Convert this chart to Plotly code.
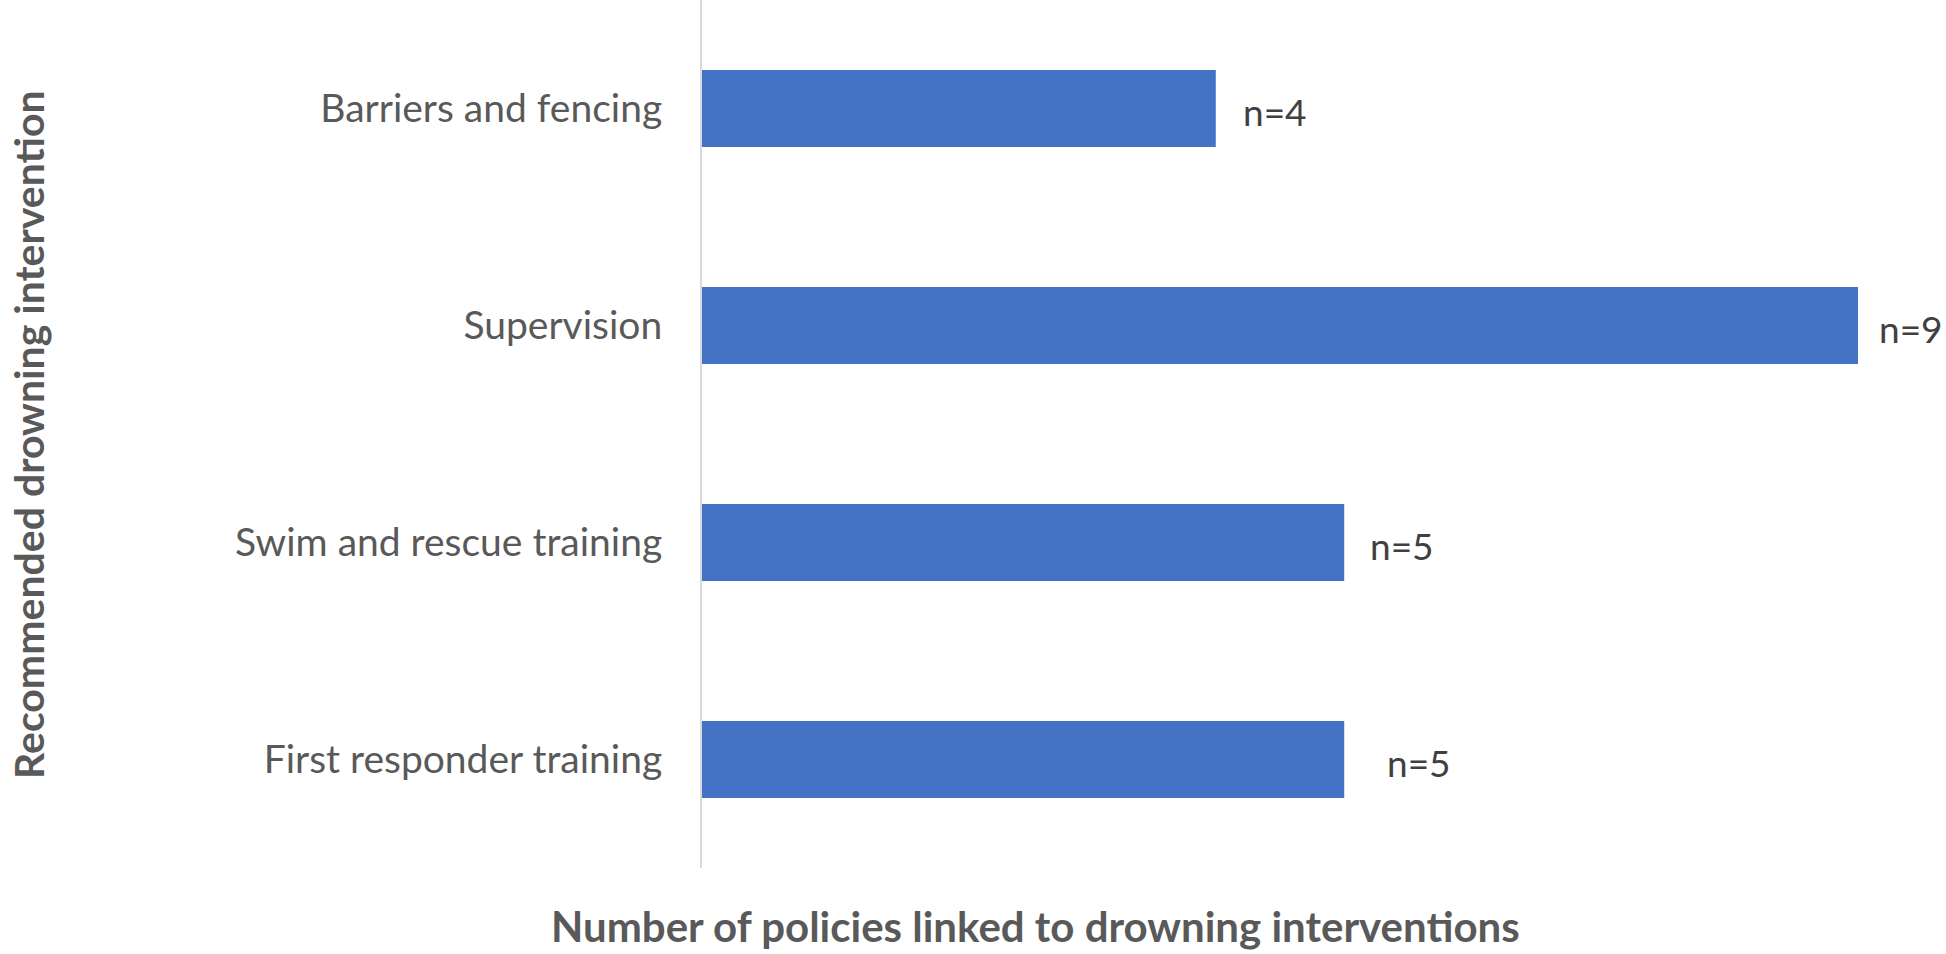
import plotly.graph_objects as go

categories = ["Barriers and fencing", "Supervision", "Swim and rescue training", "First responder training"]
counts = [4, 9, 5, 5]
labels = ["n=4", "n=9", "n=5", "n=5"]

x_title = "Number of policies linked to drowning interventions"
y_title = "Recommended drowning intervention"

FONT = "Lato"
label_shift = [26, 20, 25, 42]

PL, PR, PT, PB = 702, 1858, 0, 868
PW, PH = PR - PL, PB - PT

fig = go.Figure(
    go.Bar(
        y=categories,
        x=counts,
        orientation="h",
        width=0.355,
        marker=dict(color="#4472C4", line=dict(width=0)),
        hoverinfo="x+y",
    )
)

for cat, val, lab, sh in zip(categories, counts, labels, label_shift):
    fig.add_annotation(
        x=val, y=cat, text=lab, showarrow=False, xanchor="left", xshift=sh, yshift=-3,
        borderpad=0,
        font=dict(family=FONT, size=37, color="#404040"),
    )

fig.add_annotation(
    text=x_title, xref="paper", yref="paper", x=(1035 - PL) / PW, y=-(926 - PB) / PH,
    xanchor="center", yanchor="middle", showarrow=False, borderpad=0,
    font=dict(family=FONT, size=42, color="#595959", weight="bold"),
)
fig.add_annotation(
    text=y_title, xref="paper", yref="paper", x=(28 - PL) / PW, y=(PB - 434) / PH,
    xanchor="center", yanchor="middle", showarrow=False, textangle=-90, borderpad=0,
    font=dict(family=FONT, size=41, color="#595959", weight="bold"),
)

fig.update_layout(
    width=1946, height=954,
    margin=dict(l=PL, r=1946 - PR, t=PT, b=954 - PB),
    paper_bgcolor="white", plot_bgcolor="white",
    showlegend=False,
    xaxis=dict(range=[0, 9], showgrid=False, zeroline=False, showticklabels=False, showline=False, fixedrange=True),
    yaxis=dict(
        categoryorder="array", categoryarray=categories, autorange="reversed",
        showgrid=False, zeroline=False, showline=True, linecolor="#d9d9d9", linewidth=2,
        ticks="", ticklabelstandoff=30,
        tickfont=dict(family=FONT, size=39, color="#595959"),
    ),
)

fig.write_html(
    "out.html",
    config={"displayModeBar": False},
    post_script="document.body.style.margin='0';document.body.style.overflow='hidden';",
)
